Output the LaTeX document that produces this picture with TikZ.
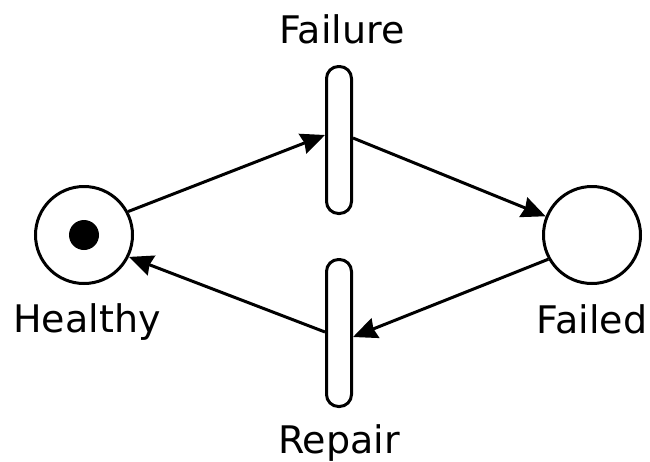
\documentclass[tikz,border=0pt]{standalone}
\usepackage{fontspec}
\setmainfont{DejaVu Sans}
\usetikzlibrary{arrows.meta, positioning}

\begin{document}
\begin{tikzpicture}[
            x = 1pt,
            y = -1pt,
            > = {Stealth[length=24pt, width=21pt, inset=2pt]},
            line width = 3pt,
            font = \fontsize{38}{44}\selectfont
        ]

        \tikzstyle{place}=[
            circle,
            draw = black,
            fill = white,
            minimum size = 97pt,
            inner sep = 0pt
        ]
        \tikzstyle{transition}=[
            rectangle,
            rounded corners = 12pt,
            draw = black,
            fill = white,
            minimum width = 25pt,
            minimum height = 147pt,
            inner sep = 0pt
        ]
        \tikzstyle{token}=[circle, fill = black, minimum size = 30pt, inner sep = 0pt]

        \useasboundingbox (0,0) rectangle (650,461);

        \node[place] (healthy) at (84,235) {};
        \node[token] (tok) at (healthy.center) {};
        \node[place] (failed) at (592,235) {};
        \node[transition] (failure) at (339,140) {};
        \node[transition] (repair) at (339,333) {};

        \node[anchor=base] (healthylbl) at (87,332) {Healthy};
        \node[anchor=base] (failedlbl) at (592,333) {Failed};
        \node[anchor=base] (failurelbl) at (342,43) {Failure};
        \node[anchor=base] (repairlbl) at (339,453) {Repair};

        \draw[->] (healthy.28) -- ([yshift=5pt]failure.west);
        \draw[->] ([yshift=2pt]failure.east) -- (failed.158);
        \draw[->] (failed.209) -- ([yshift=-4pt]repair.east);
        \draw[->] ([yshift=1pt]repair.west) -- (healthy.-26);

    \end{tikzpicture}
\end{document}
